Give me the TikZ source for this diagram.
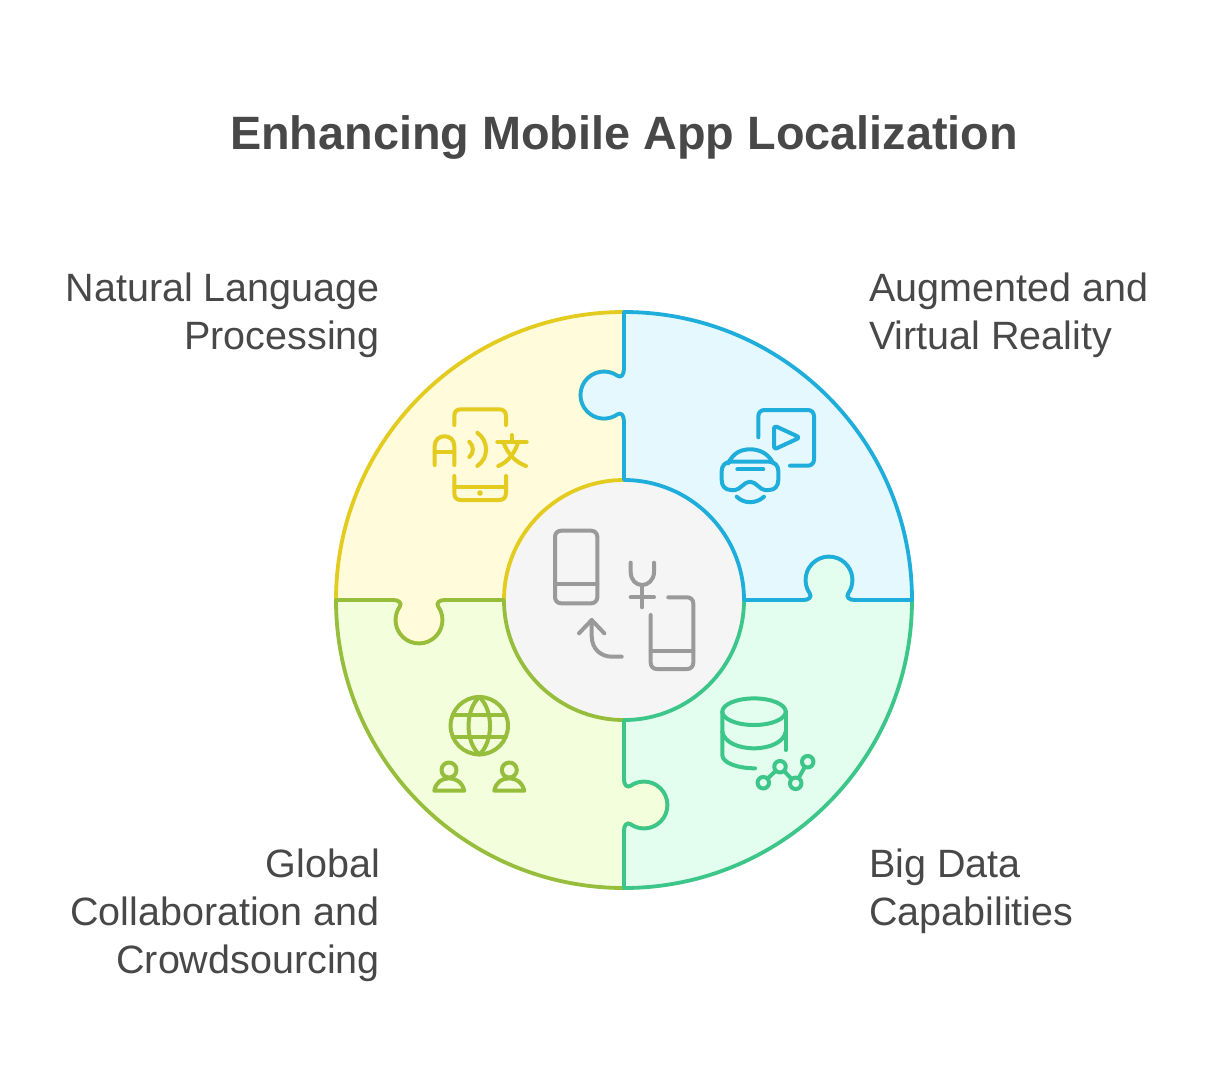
\documentclass[tikz,border=0pt]{standalone}
\usepackage{fontspec}
\setmainfont{Liberation Sans}
\definecolor{yellowfill}{HTML}{FFFBDB}
\definecolor{yellowline}{HTML}{E3CB1F}
\definecolor{bluefill}{HTML}{E5F8FE}
\definecolor{blueline}{HTML}{1FAEDC}
\definecolor{greenfill}{HTML}{E3FDEE}
\definecolor{greenline}{HTML}{3DC68A}
\definecolor{olivefill}{HTML}{F3FEDD}
\definecolor{oliveline}{HTML}{96BE3C}
\definecolor{hubfill}{HTML}{F5F5F5}
\definecolor{hubline}{HTML}{9A9A9A}
\definecolor{textcol}{HTML}{484848}
\newcommand{\piecepath}{(0,288) -- (0,231) .. controls (0,225) and (-3.2,221.9) .. (-6.5,224.2) arc[start angle=55,end angle=305,radius=23.5] .. controls (-3.2,188) and (0,185) .. (0,179) -- (0,120) arc[start angle=90,end angle=0,radius=120] -- (179,0) .. controls (185,0) and (188,3.2) .. (185.75,6.5) arc[start angle=215,end angle=-35,radius=23.5] .. controls (221.9,3.2) and (225,0) .. (231,0) -- (288,0) arc[start angle=0,end angle=90,radius=288] -- cycle}
\begin{document}
\begin{tikzpicture}[x=1pt, y=-1pt,
    piece/.style={line width=3.8pt, line join=round},
    icon/.style={line width=4pt, line cap=round, line join=round},
    label/.style={inner sep=0pt, text=textcol, font=\fontsize{39.5}{48}\selectfont},
    dot node/.style={circle, draw=greenline, line width=4pt, inner sep=0pt, minimum size=11.5pt}]
    \useasboundingbox (0,0) rectangle (1224,1080);
    \node[inner sep=0pt, text=textcol, font=\bfseries\fontsize{46.8}{56}\selectfont] (title) at (624,137) {Enhancing Mobile App Localization};

    \node[label, anchor=north east, align=right] (nlp) at (380,273) {Natural Language\\Processing};
    \node[label, anchor=north west, align=left] (arvr) at (869,273) {Augmented and\\Virtual Reality};
    \node[label, anchor=north east, align=right] (crowd) at (380,849) {Global\\Collaboration and\\Crowdsourcing};
    \node[label, anchor=north west, align=left] (bigdata) at (869,849) {Big Data\\Capabilities};

    \node[circle, fill=hubfill, minimum size=240pt, inner sep=0pt] (hub) at (624,600) {};

    \begin{scope}[shift={(624,600)}, y=1pt]
        \draw[piece, draw=yellowline, fill=yellowfill, rotate=90] \piecepath;
        \draw[piece, draw=oliveline, fill=olivefill, rotate=180] \piecepath;
        \draw[piece, draw=greenline, fill=greenfill, rotate=270] \piecepath;
        \draw[piece, draw=blueline, fill=bluefill] \piecepath;
    \end{scope}

    \begin{scope}[icon, draw=yellowline]
        \draw (454.3,425) -- (454.3,416) .. controls (454.3,411) and (457,409.3) .. (461,409.3) -- (499,409.3) .. controls (503,409.3) and (506,411) .. (506,416) -- (506,425);
        \draw (454.3,476) -- (454.3,493) .. controls (454.3,498) and (457,500) .. (461,500) -- (499,500) .. controls (503,500) and (506,498) .. (506,493) -- (506,476);
        \draw (454.3,487) -- (506,487);
        \fill[yellowline] (480,493) circle (2.8);
        \draw (434.7,465) -- (434.7,446) .. controls (434.7,433) and (454.3,433) .. (454.3,446) -- (454.3,465);
        \draw (434.7,451.7) -- (454.3,451.7);
        \draw (469.3,441.7) .. controls (474,446) and (474,453) .. (469.3,457);
        \draw (477.3,432.7) .. controls (489,441) and (489,458) .. (477.3,466);
        \draw (511.7,435) -- (511.7,441.7);
        \draw (497.3,441.7) -- (526.7,441.7);
        \draw (518.3,441.7) .. controls (515,453) and (508,462) .. (498.3,466);
        \draw (503.3,441.7) .. controls (507,453) and (515,462) .. (526,466);
    \end{scope}

    \begin{scope}[icon, draw=blueline]
        \draw[rounded corners=6pt] (758.3,437.3) -- (758.3,410) -- (814,410) -- (814,465.7) -- (790,465.7);
        \draw[rounded corners=3pt] (774,425.5) -- (800,437.5) -- (774,449.5) -- cycle;
        \draw (728.3,463.3) .. controls (733,453) and (741,449.3) .. (750,449.3) .. controls (759,449.3) and (768,453) .. (773.3,463.3);
        \draw (731,461.7) -- (769,461.7) .. controls (775,461.7) and (778.3,466) .. (778.3,471) -- (778.3,480) .. controls (778.3,486) and (775,490) .. (769,490) -- (765,490) .. controls (760,490) and (756,481.7) .. (750,481.7) .. controls (744,481.7) and (740,490) .. (735,490) -- (731,490) .. controls (725,490) and (721.7,486) .. (721.7,480) -- (721.7,471) .. controls (721.7,466) and (725,461.7) .. (731,461.7) -- cycle;
        \draw (737.3,469.3) -- (763.3,469.3);
        \draw (736.7,496.7) .. controls (744,504) and (756,504) .. (764,496.7);
    \end{scope}

    \begin{scope}[icon, draw=hubline]
        \draw[rounded corners=6pt] (555,530.7) rectangle (597.3,603.3);
        \draw (555,584.3) -- (597.3,584.3);
        \draw (630.7,562.7) -- (630.7,572) .. controls (630.7,580) and (636,585) .. (642,585) .. controls (648,585) and (654,580) .. (654,572) -- (654,562.7);
        \draw (642,585) -- (642,607.3);
        \draw (630.7,597.3) -- (654,597.3);
        \draw[rounded corners=6pt] (668.3,597.3) -- (693.3,597.3) -- (693.3,669) -- (650.7,669) -- (650.7,615);
        \draw (650.7,651) -- (693.3,651);
        \draw (579,633.3) -- (591.7,620) -- (604.3,633.3);
        \draw (591.7,620) -- (591.7,636) .. controls (591.7,649) and (601,656.7) .. (612,656.7) -- (621.7,656.7);
    \end{scope}

    \begin{scope}[icon, draw=oliveline]
        \draw (479.3,725.7) circle (28.7);
        \draw (479.3,697) .. controls (465,710) and (465,742) .. (479.3,754.4);
        \draw (479.3,697) .. controls (493.6,710) and (493.6,742) .. (479.3,754.4);
        \draw (453,715) -- (505.6,715);
        \draw (453,736.7) -- (505.6,736.7);
        \draw (449,770) circle (7.5);
        \draw (509.3,770) circle (7.5);
        \draw (434.3,790.7) .. controls (436,782) and (442,778.3) .. (449,778.3) .. controls (456,778.3) and (462,782) .. (464.3,790.7) -- cycle;
        \draw (494.3,790.7) .. controls (496,782) and (502,778.3) .. (509.3,778.3) .. controls (516,778.3) and (522,782) .. (524.3,790.7) -- cycle;
    \end{scope}

    \begin{scope}[icon, draw=greenline]
        \draw (754,711.7) ellipse (31.7 and 13.3);
        \draw (722.3,711.7) -- (722.3,755) .. controls (722.3,763) and (738,768.3) .. (755,768.3);
        \draw (722.3,731.7) .. controls (724,742) and (738,748.3) .. (754,748.3) .. controls (770,748.3) and (784,742) .. (785.7,731.7);
        \draw (785.7,711.7) -- (785.7,750);
        \node[dot node] (g1) at (763.3,782.7) {};
        \node[dot node] (g2) at (780,766.7) {};
        \node[dot node] (g3) at (795.7,783.3) {};
        \node[dot node] (g4) at (807.7,761.7) {};
        \draw (g1) -- (g2);
        \draw (g2) -- (g3);
        \draw (g3) -- (g4);
    \end{scope}
\end{tikzpicture}
\end{document}
